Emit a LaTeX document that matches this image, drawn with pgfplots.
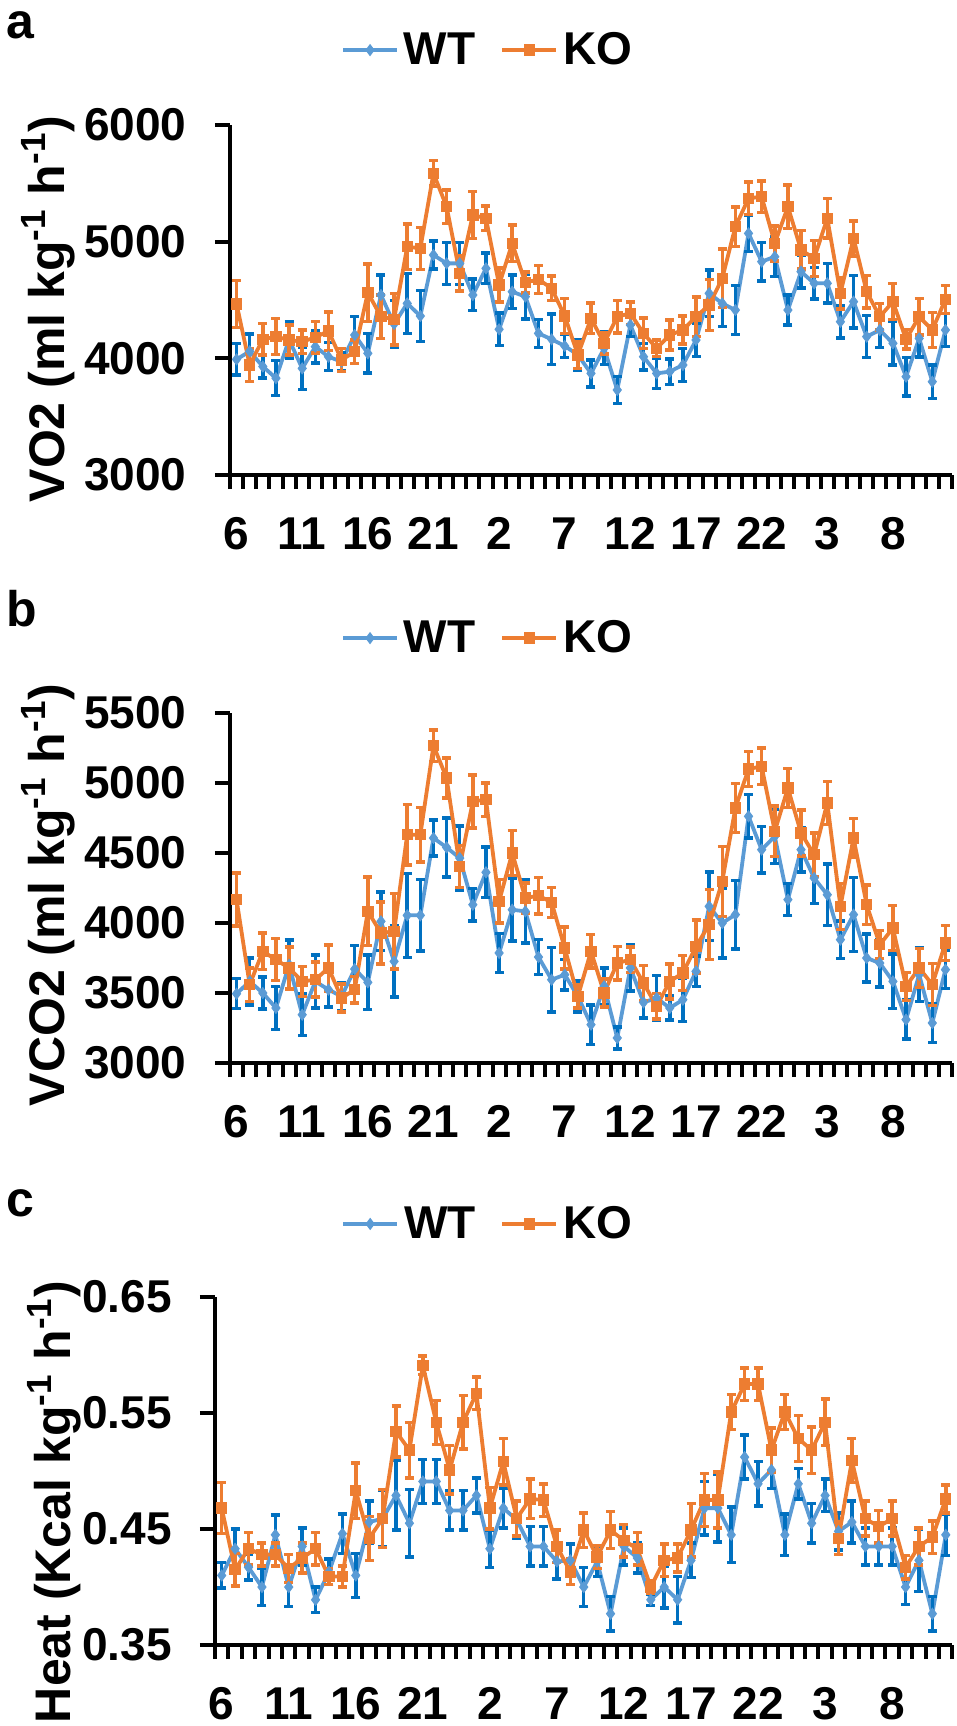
\documentclass[border=0pt]{standalone}
\usepackage{fontspec}
\setmainfont{Liberation Sans}
\usepackage{pgfplots}
\usepackage{pgfplotstable}
\pgfplotsset{compat=1.18}
\definecolor{wtline}{HTML}{5B9BD5}
\definecolor{wterr}{HTML}{0070C0}
\definecolor{kocol}{HTML}{ED7D31}
\newcommand{\tickfont}{\fontsize{23}{27}\selectfont\bfseries}
\newcommand{\labfont}{\fontsize{25}{29}\selectfont\bfseries}

\pgfplotstableread{
i wt wte ko koe
0 3991 135 4466 200
1 4060 150 3943 140
2 3930 100 4163 135
3 3830 150 4186 155
4 4160 155 4157 130
5 3914 180 4143 100
6 4100 140 4180 135
7 4014 120 4234 165
8 3971 80 3986 100
9 4200 160 4057 100
10 4043 170 4563 247
11 4543 170 4357 185
12 4294 200 4334 220
13 4471 257 4957 195
14 4363 220 4943 180
15 4886 120 5586 110
16 4814 180 5300 145
17 4814 180 4729 150
18 4543 135 5229 200
19 4771 130 5200 105
20 4249 140 4629 145
21 4571 145 4986 155
22 4529 190 4649 90
23 4214 120 4677 120
24 4163 215 4600 105
25 4106 100 4363 150
26 4030 130 4029 115
27 3871 115 4343 130
28 4086 140 4129 90
29 3729 115 4357 140
30 4286 100 4386 95
31 4014 115 4214 130
32 3871 130 4086 70
33 3886 110 4200 130
34 3943 140 4243 120
35 4157 140 4357 170
36 4557 200 4457 220
37 4471 200 4686 250
38 4414 210 5129 170
39 5071 157 5371 140
40 4829 165 5386 135
41 4871 170 4986 150
42 4414 130 5300 185
43 4743 140 4929 165
44 4643 135 4857 155
45 4643 170 5200 170
46 4314 140 4557 135
47 4486 225 5029 150
48 4186 180 4571 140
49 4243 150 4357 115
50 4129 185 4486 155
51 3843 165 4163 85
52 4171 160 4357 155
53 3800 145 4243 150
54 4243 140 4506 120
}\dataA

\pgfplotstableread{
i wt wte ko koe
0 3495 107 4167 190
1 3583 167 3560 120
2 3500 113 3798 130
3 3393 155 3738 150
4 3702 175 3679 150
5 3345 150 3583 107
6 3583 190 3595 125
7 3524 125 3679 165
8 3476 100 3464 100
9 3671 170 3524 95
10 3576 195 4083 245
11 4012 210 3929 220
12 3726 255 3940 270
13 4055 300 4631 215
14 4055 255 4631 195
15 4607 130 5267 113
16 4540 210 5036 143
17 4464 230 4405 150
18 4131 115 4869 190
19 4362 180 4881 120
20 3786 140 4155 155
21 4095 225 4500 160
22 4083 225 4179 107
23 3757 125 4195 130
24 3595 230 4148 107
25 3631 110 3821 150
26 3476 110 3476 83
27 3274 140 3798 120
28 3548 130 3500 100
29 3179 80 3714 120
30 3679 165 3738 90
31 3433 113 3571 125
32 3464 160 3405 90
33 3393 85 3583 125
34 3452 155 3643 125
35 3655 110 3833 190
36 4119 245 3988 250
37 4000 250 4298 250
38 4060 245 4821 175
39 4762 155 5100 125
40 4524 165 5119 130
41 4619 195 4655 180
42 4167 115 4964 140
43 4524 160 4643 165
44 4321 180 4488 155
45 4202 220 4857 155
46 3881 135 4119 165
47 4060 265 4607 140
48 3750 170 4131 140
49 3714 170 3845 100
50 3583 195 3964 160
51 3310 140 3548 100
52 3631 190 3679 140
53 3286 140 3560 150
54 3667 135 3857 125
}\dataB

\pgfplotstableread{
i wt wte ko koe
0 0.410 0.011 0.468 0.022
1 0.433 0.017 0.415 0.014
2 0.417 0.011 0.433 0.014
3 0.400 0.016 0.428 0.010
4 0.445 0.017 0.428 0.010
5 0.400 0.017 0.416 0.012
6 0.435 0.016 0.425 0.013
7 0.389 0.011 0.433 0.014
8 0.413 0.011 0.409 0.007
9 0.446 0.017 0.409 0.009
10 0.410 0.019 0.483 0.024
11 0.456 0.018 0.442 0.019
12 0.459 0.024 0.459 0.025
13 0.479 0.030 0.534 0.022
14 0.455 0.029 0.518 0.024
15 0.491 0.019 0.591 0.008
16 0.491 0.019 0.542 0.019
17 0.466 0.017 0.501 0.021
18 0.466 0.017 0.542 0.023
19 0.479 0.015 0.567 0.014
20 0.433 0.016 0.468 0.018
21 0.468 0.017 0.508 0.020
22 0.458 0.016 0.459 0.015
23 0.435 0.017 0.476 0.017
24 0.435 0.017 0.475 0.014
25 0.422 0.015 0.435 0.014
26 0.423 0.014 0.413 0.011
27 0.400 0.017 0.449 0.015
28 0.422 0.013 0.426 0.010
29 0.377 0.015 0.449 0.016
30 0.435 0.016 0.440 0.014
31 0.425 0.013 0.433 0.014
32 0.389 0.005 0.400 0.005
33 0.400 0.018 0.423 0.014
34 0.389 0.020 0.425 0.012
35 0.423 0.015 0.449 0.023
36 0.468 0.023 0.475 0.023
37 0.468 0.029 0.475 0.024
38 0.445 0.024 0.551 0.015
39 0.512 0.019 0.575 0.014
40 0.489 0.019 0.575 0.014
41 0.501 0.016 0.518 0.019
42 0.445 0.018 0.551 0.015
43 0.489 0.013 0.528 0.020
44 0.455 0.017 0.518 0.020
45 0.479 0.014 0.542 0.020
46 0.448 0.016 0.442 0.014
47 0.456 0.018 0.509 0.019
48 0.435 0.016 0.459 0.015
49 0.435 0.016 0.452 0.014
50 0.435 0.016 0.459 0.015
51 0.400 0.015 0.417 0.010
52 0.423 0.027 0.435 0.016
53 0.377 0.015 0.443 0.014
54 0.445 0.018 0.476 0.012
}\dataC

\pgfplotsset{
  panel/.style={
    scale only axis, clip=false,
    axis x line*=bottom, axis y line*=left,
    axis line style={line width=2pt, black},
    xmin=-0.5, xmax=54.5,
    xtick={0,5,...,50},
    xticklabels={6,11,16,21,2,7,12,17,22,3,8},
    minor xtick={-0.5,0.5,...,54.5},
    tick align=outside,
    major tick length=7.5pt, minor tick length=7pt,
    major x tick style={draw=none},
    minor x tick style={line width=2pt, black},
    major y tick style={line width=2pt, black},
    /pgf/number format/assume math mode=true,
    ticklabel style={font=\tickfont},
    xticklabel style={anchor=base, inner sep=0pt, yshift=-29.5pt},
    yticklabel style={anchor=east, inner sep=0pt, xshift=-14pt},
    legend columns=2,
    legend style={draw=none, fill=none, font=\tickfont, inner sep=0pt,
      anchor=center, nodes={inner sep=2.5pt},
      /tikz/every even column/.append style={column sep=10pt}},
    legend image code/.code={\draw[mark repeat=2,mark phase=2,##1] plot coordinates {(0pt,0pt) (13.5pt,0pt) (27pt,0pt)};},
  },
  wt/.style={color=wtline, line width=1.9pt, mark=diamond*, mark size=2.7pt,
    mark options={solid, fill=wtline, draw=wtline, line width=0.5pt},
    error bars/.cd, y dir=both, y explicit,
    error bar style={color=wterr, line width=1.75pt},
    error mark options={rotate=90, mark size=2.25pt, line width=1.75pt, color=wterr}},
  ko/.style={color=kocol, line width=1.9pt, mark=square*, mark size=2.6pt,
    mark options={solid, fill=kocol, draw=kocol, line width=0.5pt},
    error bars/.cd, y dir=both, y explicit,
    error bar style={color=kocol, line width=1.75pt},
    error mark options={rotate=90, mark size=2.25pt, line width=1.75pt, color=kocol}},
}

\begin{document}
\begin{tikzpicture}
\path[use as bounding box] (0pt,0pt) rectangle (478.5pt,-863pt);

% panel a
\begin{axis}[panel, at={(115pt,-237.5pt)}, anchor=south west,
  width=361pt, height=175pt, ymin=3000, ymax=6000,
  ytick={3000,4000,5000,6000}, yticklabels={3000,4000,5000,6000},
  legend style={at={(axis description cs:0.359,1.214)}}]
\addplot[wt] table[x=i, y=wt, y error=wte] {\dataA};
\addplot[ko] table[x=i, y=ko, y error=koe] {\dataA};
\legend{WT,KO}
\end{axis}

% panel b
\begin{axis}[panel, at={(115pt,-531.5pt)}, anchor=south west,
  width=361pt, height=175pt, ymin=3000, ymax=5500,
  ytick={3000,3500,4000,4500,5000,5500}, yticklabels={3000,3500,4000,4500,5000,5500},
  legend style={at={(axis description cs:0.359,1.214)}}]
\addplot[wt] table[x=i, y=wt, y error=wte] {\dataB};
\addplot[ko] table[x=i, y=ko, y error=koe] {\dataB};
\legend{WT,KO}
\end{axis}

% panel c
\begin{axis}[panel, at={(107.5pt,-822.5pt)}, anchor=south west,
  width=368.75pt, height=174pt, ymin=0.35, ymax=0.65,
  ytick={0.35,0.45,0.55,0.65}, yticklabels={0.35,0.45,0.55,0.65},
  legend style={at={(axis description cs:0.372,1.21)}}]
\addplot[wt] table[x=i, y=wt, y error=wte] {\dataC};
\addplot[ko] table[x=i, y=ko, y error=koe] {\dataC};
\legend{WT,KO}
\end{axis}

% y labels
\node[rotate=90, anchor=base, inner sep=0pt, font=\labfont] at (32pt,-154.5pt) {VO2 (ml kg\textsuperscript{-1} h\textsuperscript{-1})};
\node[rotate=90, anchor=base, inner sep=0pt, font=\labfont] at (32pt,-447.5pt) {VCO2 (ml kg\textsuperscript{-1} h\textsuperscript{-1})};
\node[rotate=90, anchor=base, inner sep=0pt, font=\labfont] at (35pt,-751pt) {Heat (Kcal kg\textsuperscript{-1} h\textsuperscript{-1})};

% panel letters
\node[anchor=base west, inner sep=0pt, font=\labfont] at (3pt,-19pt) {a};
\node[anchor=base west, inner sep=0pt, font=\labfont] at (3pt,-313pt) {b};
\node[anchor=base west, inner sep=0pt, font=\labfont] at (3pt,-608pt) {c};
\end{tikzpicture}
\end{document}
